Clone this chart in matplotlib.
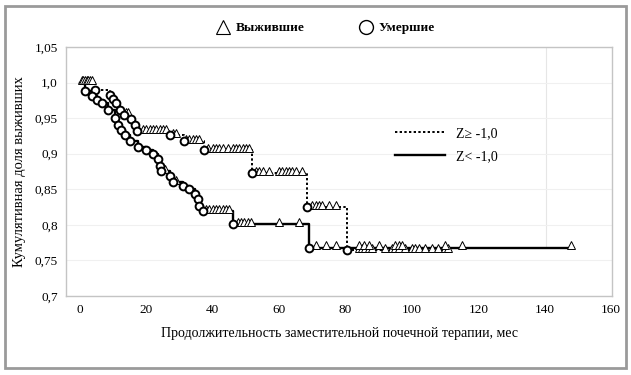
import numpy as np
import matplotlib.pyplot as plt
from matplotlib.lines import Line2D
from matplotlib.patches import Rectangle

plt.rcParams['font.family'] = ['Liberation Serif', 'DejaVu Serif']

# Z >= -1,0 (dotted, upper curve): death times and survival after each death
hi_death_t = [4.5, 9, 10, 11, 12, 13.2, 15.5, 16.6, 17.3, 27, 31.3, 37.3, 51.7, 68.3, 80.5]
hi_surv = [0.989, 0.983, 0.977, 0.971, 0.962, 0.955, 0.949, 0.941, 0.932, 0.926,
           0.918, 0.905, 0.873, 0.825, 0.764]
hi_cens_t = [0.5, 1, 1.5, 2, 2.5, 3, 3.5, 14, 14.6, 19, 20, 21, 22, 23, 24, 25, 26, 28, 29,
             32, 33, 34, 35, 36, 38.5, 40, 41, 42, 43, 44.5, 46, 47, 48, 49, 50, 51,
             53, 54, 55, 57, 60, 61, 62, 63, 64, 65, 67, 70, 71, 72, 73, 75, 77,
             84, 85, 86, 87, 88, 92, 94, 95, 96, 98, 100, 101, 102, 104, 106, 108, 110, 111]

# Z < -1,0 (solid, lower curve)
lo_death_t = [1.5, 3.5, 5, 6.5, 8.5, 10.5, 11.6, 12.5, 13.5, 15, 17.6, 20, 22, 23.6, 24,
              24.3, 27, 28, 31, 33, 34.6, 35.6, 36, 37, 46, 69]
lo_surv = [0.988, 0.981, 0.976, 0.971, 0.962, 0.950, 0.941, 0.933, 0.926, 0.918, 0.910,
           0.905, 0.899, 0.892, 0.883, 0.876, 0.868, 0.860, 0.855, 0.850, 0.843, 0.836,
           0.826, 0.819, 0.801, 0.768]
lo_cens_t = [25.5, 29, 38, 39, 40, 41, 42, 43, 44, 45, 47.5, 48.5, 49.5, 50.5, 51.5,
             60, 66, 71, 74, 77, 84, 85.5, 87, 90, 95, 96, 97, 110, 115, 148]

yticks = [0.7, 0.75, 0.8, 0.85, 0.9, 0.95, 1.0, 1.05]
ytick_labels = ['0,7', '0,75', '0,8', '0,85', '0,9', '0,95', '1,0', '1,05']
xticks = [0, 20, 40, 60, 80, 100, 120, 140, 160]

fig = plt.figure(figsize=(6.31, 3.75), dpi=100)
fig.patches.append(Rectangle((0.008, 0.018), 0.984, 0.966, transform=fig.transFigure,
                             fill=False, edgecolor='#9a9a9a', linewidth=2))
ax = fig.add_axes([0.1046, 0.2107, 0.8654, 0.664])


def draw_curve(death_t, surv, cens_t, ls, lw):
    death_t = np.asarray(death_t)
    surv = np.asarray(surv)
    cens_t = np.asarray(cens_t)
    end_t = max(death_t[-1], cens_t.max())
    xs = np.r_[0, death_t, end_t]
    ys = np.r_[1.0, surv, surv[-1]]
    ax.step(xs, ys, where='post', color='black', linestyle=ls, linewidth=lw, zorder=2)
    levels = np.r_[1.0, surv][np.searchsorted(death_t, cens_t, side='right')]
    ax.plot(cens_t, levels + 0.003, linestyle='none', marker='^', markersize=5.5,
            markerfacecolor='white', markeredgecolor='black', markeredgewidth=0.7, zorder=3)
    ax.plot(death_t, surv, linestyle='none', marker='o', markersize=5.6,
            markerfacecolor='white', markeredgecolor='black', markeredgewidth=1.4, zorder=4)


draw_curve(hi_death_t, hi_surv, hi_cens_t, (0, (1.2, 1.2)), 1.4)
draw_curve(lo_death_t, lo_surv, lo_cens_t, '-', 1.7)

ax.set_xlim(-4.2, 160.3)
ax.set_ylim(0.7, 1.05)
ax.set_xticks(xticks)
ax.set_yticks(yticks)
ax.set_yticklabels(ytick_labels)
ax.tick_params(length=0, labelsize=9.5, pad=6)
ax.grid(axis='y', color='#f0f0f0', linewidth=0.8)
ax.axvline(140.4, ymin=0.2, ymax=1, color='#e6e6e6', linewidth=0.8, zorder=0)
for s in ax.spines.values():
    s.set_color('#c4c4c4')
    s.set_linewidth(1.0)

ax.set_xlabel('Продолжительность заместительной почечной терапии, мес', fontsize=10, labelpad=8)
ax.set_ylabel('Кумулятивная доля выживших', fontsize=10.5, labelpad=6)

inner = [Line2D([], [], color='black', linestyle=(0, (1.2, 1.2)), linewidth=1.4),
         Line2D([], [], color='black', linestyle='-', linewidth=1.7)]
ax.legend(inner, ['Z≥ -1,0', 'Z< -1,0'], loc='upper left', bbox_to_anchor=(0.58, 0.73),
          frameon=False, fontsize=10, handlelength=3.6, labelspacing=0.75)

top = [Line2D([], [], linestyle='none', marker='^', markersize=10,
              markerfacecolor='white', markeredgecolor='black', markeredgewidth=0.8),
       Line2D([], [], linestyle='none', marker='o', markersize=10,
              markerfacecolor='white', markeredgecolor='black', markeredgewidth=1.0)]
fig.legend(top, ['Выжившие', 'Умершие'], loc='center', bbox_to_anchor=(0.515, 0.925),
           ncol=2, frameon=False, columnspacing=4.1, handlelength=1.2, handletextpad=0.3,
           prop={'size': 9.5, 'weight': 'bold'})

fig.savefig('out.png', dpi=100)
